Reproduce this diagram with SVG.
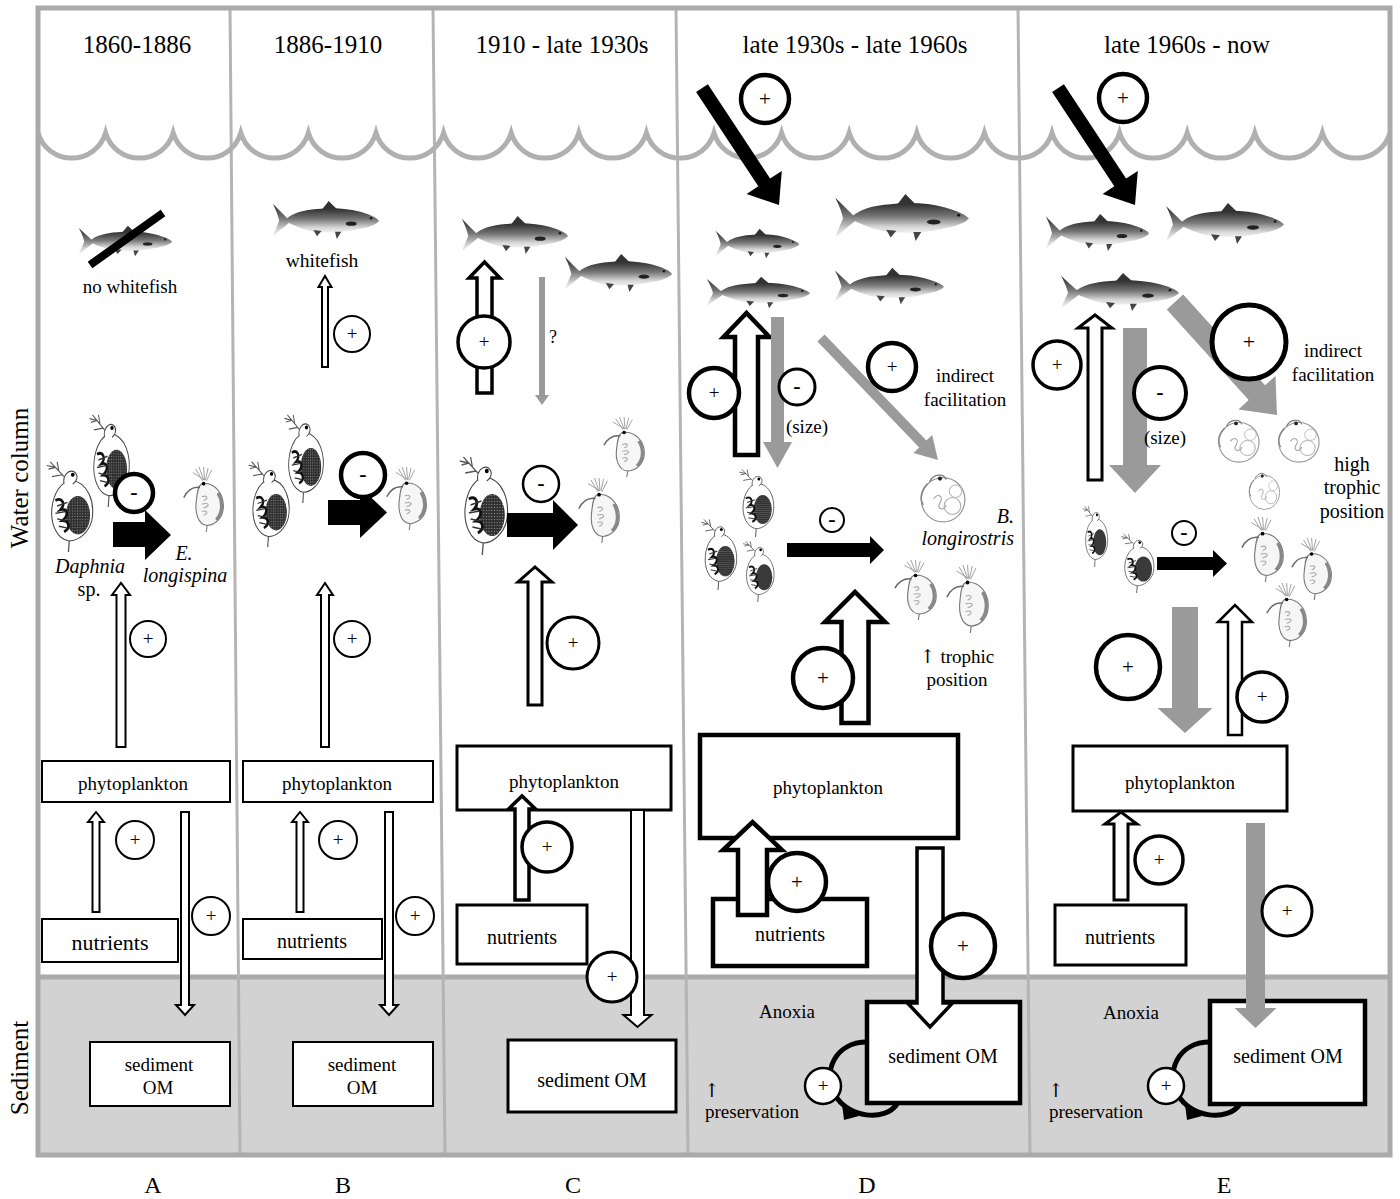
<svg xmlns="http://www.w3.org/2000/svg" xmlns:xlink="http://www.w3.org/1999/xlink" width="1400" height="1199" viewBox="0 0 1400 1199">
<style>
.t{font-family:"Liberation Serif","Times New Roman",serif;fill:#000}
.ar{font-family:"DejaVu Serif","DejaVu Sans",serif;fill:#000}
.ti{font-style:italic}
.mid{text-anchor:middle}
.box{fill:#fff;stroke:#000}
.wa{fill:#fff;stroke:#000;stroke-linejoin:miter}
.bk{fill:#000}
.gy{fill:#9a9a9a}
.cc{fill:#fff;stroke:#000}
.pl{font-size:19px}
.mi{font-size:22px;font-weight:bold}
.grid{stroke:#b4b4b4;stroke-width:3;fill:none}
</style>
<defs>
<linearGradient id="fg" x1="0" y1="0" x2="0" y2="1"><stop offset="0" stop-color="#2c2c2c"/><stop offset="0.45" stop-color="#777"/><stop offset="0.8" stop-color="#d6d6d6"/><stop offset="1" stop-color="#f0f0f0"/></linearGradient>
<pattern id="dots" width="3" height="3" patternUnits="userSpaceOnUse"><rect width="3" height="3" fill="#2e2e2e"/><circle cx="1.5" cy="1.5" r="0.7" fill="#8a8a8a"/></pattern>
<symbol id="fish" viewBox="0 0 120 44" preserveAspectRatio="none">
<path fill="url(#fg)" d="M19 22 C13 16 7 10 1 4 C5 12 7 18 8 23 C6 28 3 34 1 40 C8 34 14 29 19 25 Z"/>
<path fill="url(#fg)" d="M16 21 C22 15 34 11 50 10 C66 8 84 9 98 13 C108 16 116 19 119 23 C116 27 108 30 96 32 C80 36 58 37 42 34 C30 31 22 27 16 24 Z"/>
<path fill="#333" d="M56 10 L63 1 L66 4 L72 10 Z"/>
<path fill="#444" d="M46 33 L50 40 L55 34 Z M70 35 L72 43 L77 35 Z"/>
<ellipse cx="88" cy="26" rx="6" ry="2.3" fill="#222"/>
<circle cx="110" cy="20" r="1.3" fill="#111"/>
</symbol>
<symbol id="daph" viewBox="0 0 60 100" preserveAspectRatio="none">
<path d="M28 88 L27 100" stroke="#555" stroke-width="1.5"/>
<path d="M30 22 C50 24 58 46 54 66 C50 80 38 88 28 88 C14 86 6 70 8 52 C10 36 18 24 30 22 Z" fill="#fff" stroke="#444" stroke-width="1.2"/>
<ellipse cx="38" cy="60" rx="14" ry="21" fill="url(#dots)"/>
<path d="M12 44 C20 40 24 48 18 54 C26 52 28 60 20 66 C28 66 30 74 22 78" fill="none" stroke="#111" stroke-width="3"/>
<path d="M14 50 L26 46 M12 58 L24 56 M14 64 L24 66 M16 72 L26 74" stroke="#333" stroke-width="1.5"/>
<path d="M22 26 C20 16 28 10 34 13 C39 17 37 23 32 26" fill="#fff" stroke="#444" stroke-width="1.2"/>
<circle cx="32" cy="16" r="2.2" fill="#000"/>
<path d="M22 18 L12 8 M12 8 L6 2 M12 8 L4 10 M16 12 L14 2 M12 8 L2 6 M20 16 L8 18" stroke="#555" stroke-width="1.3" fill="none"/>
</symbol>
<symbol id="elong" viewBox="0 0 50 70" preserveAspectRatio="none">
<path d="M28 62 L27 70" stroke="#777" stroke-width="1.2"/>
<path d="M22 18 C36 16 46 28 46 42 C46 54 38 62 28 63 C18 62 14 50 16 36 C17 26 18 20 22 18 Z" fill="#f6f6f6" stroke="#777" stroke-width="1.2"/>
<path d="M40 28 C46 38 45 50 38 57" fill="none" stroke="#888" stroke-width="3.5"/>
<path d="M20 22 C12 21 6 25 2 33" fill="none" stroke="#666" stroke-width="1.6"/>
<path d="M23 15 L15 2 M24 14 L19 0 M25 14 L24 0 M26 14 L29 1 M27 15 L33 3 M25 14 L12 6" stroke="#999" stroke-width="1" fill="none"/>
<circle cx="24" cy="18" r="2" fill="#000"/>
<path d="M22 32 C28 30 30 34 24 36 M22 40 C30 38 32 42 24 44 M22 48 C28 46 30 50 24 52" fill="none" stroke="#aaa" stroke-width="1.2"/>
</symbol>
<symbol id="bos" viewBox="0 0 50 55" preserveAspectRatio="none">
<circle cx="27" cy="31" r="21" fill="#fff" stroke="#999" stroke-width="1.2"/>
<circle cx="36" cy="37" r="8" fill="none" stroke="#aaa" stroke-width="1"/>
<circle cx="39" cy="23" r="6" fill="none" stroke="#bbb"/>
<path d="M14 14 C18 6 28 6 30 12" fill="none" stroke="#777" stroke-width="1.2"/>
<circle cx="24" cy="11" r="2" fill="#222"/>
<path d="M12 16 C6 22 4 30 8 36" fill="none" stroke="#888" stroke-width="1.5"/>
<path d="M18 30 C22 24 28 28 24 34 C20 40 28 42 30 36" fill="none" stroke="#aaa" stroke-width="1.2"/>
</symbol>
</defs>
<rect width="1400" height="1199" fill="#fff"/>
<g id="background">
<rect x="38" y="977" width="1352" height="178" fill="#d2d2d2"/>
<line x1="38" y1="977" x2="1390" y2="977" stroke="#aaa" stroke-width="5"/>
<path class="grid" d="M230 8 L240 1155 M433 8 L445 1155 M676 8 L688 1155 M1018 8 L1030 1155"/>
<path fill="none" stroke="#b0b0b0" stroke-width="5" d="M38 133 A35.3 35.3 0 0 0 105.6 133 A35.3 35.3 0 0 0 173.2 133 A35.3 35.3 0 0 0 240.8 133 A35.3 35.3 0 0 0 308.4 133 A35.3 35.3 0 0 0 376 133 A35.3 35.3 0 0 0 443.6 133 A35.3 35.3 0 0 0 511.2 133 A35.3 35.3 0 0 0 578.8 133 A35.3 35.3 0 0 0 646.4 133 A35.3 35.3 0 0 0 714 133 A35.3 35.3 0 0 0 781.6 133 A35.3 35.3 0 0 0 849.2 133 A35.3 35.3 0 0 0 916.8 133 A35.3 35.3 0 0 0 984.4 133 A35.3 35.3 0 0 0 1052 133 A35.3 35.3 0 0 0 1119.6 133 A35.3 35.3 0 0 0 1187.2 133 A35.3 35.3 0 0 0 1254.8 133 A35.3 35.3 0 0 0 1322.4 133 A35.3 35.3 0 0 0 1390 133"/>
<rect x="38" y="8" width="1352" height="1147" fill="none" stroke="#aaa" stroke-width="5"/>
</g>
<g id="labels">
<text class="t mid" x="137" y="53" font-size="25">1860-1886</text>
<text class="t mid" x="328" y="53" font-size="25">1886-1910</text>
<text class="t mid" x="562" y="53" font-size="25">1910 - late 1930s</text>
<text class="t mid" x="855" y="53" font-size="25">late 1930s - late 1960s</text>
<text class="t mid" x="1187" y="53" font-size="25">late 1960s - now</text>
<text class="t mid" x="153" y="1193" font-size="24">A</text>
<text class="t mid" x="343" y="1193" font-size="24">B</text>
<text class="t mid" x="573" y="1193" font-size="24">C</text>
<text class="t mid" x="867" y="1193" font-size="24">D</text>
<text class="t mid" x="1224" y="1193" font-size="24">E</text>
<text class="t mid" transform="translate(28 478) rotate(-90)" font-size="25">Water column</text>
<text class="t mid" transform="translate(28 1068) rotate(-90)" font-size="25">Sediment</text>
</g>
<g id="organisms">
<use href="#fish" x="78" y="225" width="95" height="32"/>
<use href="#fish" x="272" y="200" width="108" height="40"/>
<use href="#fish" x="461" y="215" width="108" height="40"/>
<use href="#fish" x="564" y="253" width="109" height="40"/>
<use href="#fish" x="715" y="228" width="85" height="31"/>
<use href="#fish" x="834" y="193" width="136" height="49"/>
<use href="#fish" x="706" y="276" width="105" height="33"/>
<use href="#fish" x="834" y="267" width="111" height="38"/>
<use href="#fish" x="1045" y="213" width="105" height="39"/>
<use href="#fish" x="1165" y="202" width="120" height="43"/>
<use href="#fish" x="1060" y="272" width="120" height="40"/>
<line x1="90" y1="265" x2="163" y2="213" stroke="#000" stroke-width="8"/>
<use href="#daph" x="45" y="460" width="52" height="92"/>
<use href="#daph" x="88" y="413" width="45" height="94"/>
<use href="#elong" x="182" y="467" width="45" height="65"/>
<use href="#daph" x="247" y="460" width="46" height="87"/>
<use href="#daph" x="283" y="413" width="44" height="90"/>
<use href="#elong" x="385" y="467" width="45" height="63"/>
<use href="#daph" x="458" y="455" width="54" height="100"/>
<use href="#elong" x="602" y="417" width="46" height="60"/>
<use href="#elong" x="577" y="478" width="46" height="65"/>
<use href="#daph" x="738" y="468" width="39" height="69"/>
<use href="#daph" x="700" y="518" width="40" height="72"/>
<use href="#daph" x="742" y="540" width="35" height="62"/>
<use href="#bos" x="915" y="467" width="52" height="58"/>
<use href="#elong" x="893" y="560" width="47" height="60"/>
<use href="#elong" x="945" y="565" width="47" height="68"/>
<use href="#bos" x="1213" y="413" width="48" height="52"/>
<use href="#bos" x="1273" y="413" width="48" height="52"/>
<use href="#bos" x="1245" y="467" width="36" height="45"/>
<use href="#daph" x="1082" y="505" width="28" height="62"/>
<use href="#daph" x="1120" y="533" width="37" height="60"/>
<use href="#elong" x="1240" y="517" width="47" height="65"/>
<use href="#elong" x="1290" y="538" width="45" height="62"/>
<use href="#elong" x="1265" y="583" width="45" height="64"/>
</g>
<g id="nodes">
<g id="A-phyto"><rect class="box" x="42" y="761" width="188" height="41" stroke-width="2"/><text class="t mid pl" x="133" y="790">phytoplankton</text></g>
<g id="A-nutr"><rect class="box" x="42" y="919" width="136" height="43" stroke-width="2"/><text class="t mid" x="110" y="950" font-size="22">nutrients</text></g>
<g id="A-sed"><rect class="box" x="90" y="1042" width="140" height="64" stroke-width="2"/><text class="t mid pl" x="159" y="1071">sediment</text><text class="t mid pl" x="158" y="1094">OM</text></g>
<g id="B-phyto"><rect class="box" x="243" y="761" width="190" height="41" stroke-width="2"/><text class="t mid pl" x="337" y="790">phytoplankton</text></g>
<g id="B-nutr"><rect class="box" x="243" y="919" width="139" height="40" stroke-width="2"/><text class="t mid" x="312" y="948" font-size="20">nutrients</text></g>
<g id="B-sed"><rect class="box" x="293" y="1042" width="140" height="64" stroke-width="2"/><text class="t mid pl" x="362" y="1071">sediment</text><text class="t mid pl" x="362" y="1094">OM</text></g>
<g id="C-phyto"><rect class="box" x="457" y="746" width="214" height="64" stroke-width="3"/><text class="t mid pl" x="564" y="788">phytoplankton</text></g>
<g id="C-nutr"><rect class="box" x="457" y="905" width="130" height="59" stroke-width="3"/><text class="t mid" x="522" y="944" font-size="20">nutrients</text></g>
<g id="C-sed"><rect class="box" x="508" y="1040" width="168" height="72" stroke-width="3"/><text class="t mid" x="592" y="1087" font-size="20">sediment OM</text></g>
<g id="D-phyto"><rect class="box" x="700" y="735" width="258" height="103" stroke-width="4.5"/><text class="t mid pl" x="828" y="794">phytoplankton</text></g>
<g id="D-nutr"><rect class="box" x="713" y="899" width="154" height="67" stroke-width="4.5"/><text class="t mid" x="790" y="941" font-size="20">nutrients</text></g>
<g id="D-sed"><rect class="box" x="867" y="1002" width="153" height="101" stroke-width="4.5"/><text class="t mid" x="943" y="1063" font-size="20">sediment OM</text></g>
<g id="E-phyto"><rect class="box" x="1073" y="746" width="214" height="65" stroke-width="3"/><text class="t mid pl" x="1180" y="789">phytoplankton</text></g>
<g id="E-nutr"><rect class="box" x="1055" y="905" width="131" height="60" stroke-width="3"/><text class="t mid" x="1120" y="944" font-size="20">nutrients</text></g>
<g id="E-sed"><rect class="box" x="1210" y="1001" width="155" height="103" stroke-width="4.5"/><text class="t mid" x="1288" y="1063" font-size="20">sediment OM</text></g>
</g>
<g id="connectors">
<polygon class="wa" stroke-width="2" points="116.5,747 116.5,595 112,595 121,583 130,595 125.5,595 125.5,747"/>
<polygon class="wa" stroke-width="2" points="92.5,912 92.5,822 88,822 96,812 104,822 99.5,822 99.5,912"/>
<polygon class="wa" stroke-width="2" points="181,812 189,812 189,1005 194,1005 185,1015 176,1005 181,1005"/>
<polygon class="bk" points="113,522 145,522 145,510 171,535 145,560 145,547 113,547"/>
<polygon class="wa" stroke-width="2" points="322,367 322,287 318.5,287 325,276 331.5,287 328,287 328,367"/>
<polygon class="wa" stroke-width="2" points="321,747 321,595 317,595 325,583 333,595 329,595 329,747"/>
<polygon class="wa" stroke-width="2" points="296.5,912 296.5,822 292,822 300,812 308,822 303.5,822 303.5,912"/>
<polygon class="wa" stroke-width="2" points="385,812 393,812 393,1005 398,1005 389,1015 380,1005 385,1005"/>
<polygon class="bk" points="328,500 360,500 360,487 387,512.5 360,538 360,525 328,525"/>
<polygon class="wa" stroke-width="3.5" points="477,393 477,278 469,278 484.5,262 500,278 492,278 492,393"/>
<polygon class="gy" points="539,277 545,277 545,395 549,395 542,405 535,395 539,395"/>
<polygon class="wa" stroke-width="3" points="528,705 528,582 518,582 535,567 552,582 542,582 542,705"/>
<polygon class="wa" stroke-width="3.5" points="515,900 515,809 508.5,809 522,796 535.5,809 529,809 529,900"/>
<polygon class="wa" stroke-width="2" points="631,810 644,810 644,1015 651.5,1015 637.5,1027 623.5,1015 631,1015"/>
<polygon class="bk" points="507,513 553,513 553,500 578,525 553,550 553,537 507,537"/>
<polygon class="bk" points="696.1,91.9 758.3,186.3 746.6,194 779,205 781.8,170.9 770.1,178.6 707.9,84.2"/>
<polygon class="wa" stroke-width="4.5" points="735,455 735,337 723.5,337 746.5,313 769.5,337 758,337 758,455"/>
<polygon class="gy" points="771,317 784,317 784,442 792,442 777.5,468 763,442 771,442"/>
<polygon class="gy" points="817.4,341.5 919.2,447.6 913.4,453.1 938,460 932.2,435.1 926.4,440.6 824.6,334.5"/>
<polygon class="bk" points="787,543 870,543 870,536 884,550 870,564 870,557 787,557"/>
<polygon class="wa" stroke-width="4.5" points="841.5,723 841.5,622 825,622 855,592 885,622 868.5,622 868.5,723"/>
<polygon class="wa" stroke-width="4.5" points="738,915 738,850 723,850 752.5,822 782,850 767,850 767,915"/>
<polygon class="wa" stroke-width="3.5" points="917,848 943,848 943,1003 952.5,1003 930,1027 907.5,1003 917,1003"/>
<path d="M867 1042 C835 1042 822 1072 835 1095 C848 1118 885 1122 897 1104" fill="none" stroke="#000" stroke-width="5"/>
<polygon class="bk" points="842,1104 859,1116 844,1120"/>
<polygon class="bk" points="1052.1,91.9 1114.3,186.3 1102.6,194 1135,205 1137.8,170.9 1126.1,178.6 1063.9,84.2"/>
<polygon class="wa" stroke-width="3" points="1088,480 1088,328 1078,328 1095,315 1112,328 1102,328 1102,480"/>
<polygon class="gy" points="1123,328 1147,328 1147,465 1161,465 1135,493 1109,465 1123,465"/>
<polygon class="gy" points="1166.8,309.4 1248.7,400.1 1238.4,409.5 1277,415 1275.5,375.9 1265.1,385.3 1183.2,294.6"/>
<polygon class="bk" points="1157,557 1213,557 1213,550 1227,563.5 1213,577 1213,570 1157,570"/>
<polygon class="gy" points="1172,607 1198,607 1198,708 1212.5,708 1185,733 1157.5,708 1172,708"/>
<polygon class="wa" stroke-width="2.5" points="1228,735 1228,622 1218,622 1235,605 1252,622 1242,622 1242,735"/>
<polygon class="wa" stroke-width="3" points="1114,900 1114,824 1105,824 1121,812 1137,824 1128,824 1128,900"/>
<polygon class="gy" points="1246,823 1265,823 1265,1008 1276.5,1008 1255.5,1028 1234.5,1008 1246,1008"/>
<path d="M1210 1042 C1178 1042 1165 1072 1178 1095 C1191 1118 1228 1122 1240 1104" fill="none" stroke="#000" stroke-width="5"/>
<polygon class="bk" points="1185,1104 1202,1116 1187,1120"/>
</g>
<g id="signs">
<circle class="cc" cx="134" cy="493" r="19" stroke-width="4.5"/><text class="t mid mi" x="134" y="499">-</text>
<circle class="cc" cx="148" cy="639" r="18" stroke-width="2"/><text class="t mid" x="148" y="645" font-size="19">+</text>
<circle class="cc" cx="135" cy="840" r="19" stroke-width="2"/><text class="t mid" x="135" y="846" font-size="19">+</text>
<circle class="cc" cx="211" cy="916" r="19" stroke-width="2"/><text class="t mid" x="211" y="922" font-size="19">+</text>
<circle class="cc" cx="352" cy="334" r="18" stroke-width="2"/><text class="t mid" x="352" y="340" font-size="19">+</text>
<circle class="cc" cx="363" cy="475" r="22" stroke-width="4.5"/><text class="t mid mi" x="363" y="481">-</text>
<circle class="cc" cx="352" cy="639" r="18" stroke-width="2"/><text class="t mid" x="352" y="645" font-size="19">+</text>
<circle class="cc" cx="338" cy="840" r="19" stroke-width="2"/><text class="t mid" x="338" y="846" font-size="19">+</text>
<circle class="cc" cx="415" cy="916" r="19" stroke-width="2"/><text class="t mid" x="415" y="922" font-size="19">+</text>
<circle class="cc" cx="484" cy="342" r="26" stroke-width="3.5"/><text class="t mid" x="484" y="348" font-size="19">+</text>
<circle class="cc" cx="541" cy="484" r="18" stroke-width="2.5"/><text class="t mid mi" x="541" y="490">-</text>
<circle class="cc" cx="573" cy="643" r="26" stroke-width="3"/><text class="t mid" x="573" y="649" font-size="19">+</text>
<circle class="cc" cx="547" cy="847" r="25" stroke-width="3.5"/><text class="t mid" x="547" y="853" font-size="19">+</text>
<circle class="cc" cx="612" cy="977" r="25" stroke-width="3"/><text class="t mid" x="612" y="983" font-size="19">+</text>
<circle class="cc" cx="765" cy="99" r="24" stroke-width="4.5"/><text class="t mid" x="765" y="106" font-size="21">+</text>
<circle class="cc" cx="714" cy="393" r="25" stroke-width="4.5"/><text class="t mid" x="714" y="399" font-size="19">+</text>
<circle class="cc" cx="797" cy="387" r="18" stroke-width="3"/><text class="t mid mi" x="797" y="393">-</text>
<circle class="cc" cx="892" cy="367" r="24" stroke-width="4.5"/><text class="t mid" x="892" y="373" font-size="19">+</text>
<circle class="cc" cx="832" cy="520" r="12" stroke-width="2"/><text class="t mid mi" x="832" y="526" font-size="19">-</text>
<circle class="cc" cx="823" cy="678" r="30" stroke-width="4.5"/><text class="t mid" x="823" y="685" font-size="21">+</text>
<circle class="cc" cx="797" cy="882" r="29" stroke-width="4.5"/><text class="t mid" x="797" y="889" font-size="21">+</text>
<circle class="cc" cx="963" cy="946" r="32" stroke-width="4.5"/><text class="t mid" x="963" y="953" font-size="21">+</text>
<circle class="cc" cx="823" cy="1086" r="18" stroke-width="2.5"/><text class="t mid" x="823" y="1092" font-size="19">+</text>
<circle class="cc" cx="1123" cy="98" r="24" stroke-width="4.5"/><text class="t mid" x="1123" y="105" font-size="21">+</text>
<circle class="cc" cx="1057" cy="365" r="24" stroke-width="3.5"/><text class="t mid" x="1057" y="371" font-size="19">+</text>
<circle class="cc" cx="1160" cy="393" r="26" stroke-width="4"/><text class="t mid mi" x="1160" y="399">-</text>
<circle class="cc" cx="1249" cy="342" r="37" stroke-width="5"/><text class="t mid" x="1249" y="349" font-size="22">+</text>
<circle class="cc" cx="1184" cy="533" r="12" stroke-width="2"/><text class="t mid mi" x="1184" y="539" font-size="19">-</text>
<circle class="cc" cx="1128" cy="667" r="32" stroke-width="4.5"/><text class="t mid" x="1128" y="674" font-size="21">+</text>
<circle class="cc" cx="1262" cy="697" r="25" stroke-width="3.5"/><text class="t mid" x="1262" y="703" font-size="19">+</text>
<circle class="cc" cx="1159" cy="860" r="24" stroke-width="3.5"/><text class="t mid" x="1159" y="866" font-size="19">+</text>
<circle class="cc" cx="1287" cy="911" r="25" stroke-width="3"/><text class="t mid" x="1287" y="917" font-size="19">+</text>
<circle class="cc" cx="1166" cy="1086" r="18" stroke-width="2.5"/><text class="t mid" x="1166" y="1092" font-size="19">+</text>
</g>
<g id="annotations">
<text class="t mid" x="130" y="293" font-size="19">no whitefish</text>
<text class="t mid" x="322" y="267" font-size="19.5">whitefish</text>
<text class="t ti mid" x="90" y="573" font-size="20">Daphnia</text>
<text class="t mid" x="89" y="596" font-size="20">sp.</text>
<text class="t ti mid" x="184" y="560" font-size="20">E.</text>
<text class="t ti mid" x="185" y="582" font-size="20">longispina</text>
<text class="t mid" x="553" y="343" font-size="18">?</text>
<text class="t mid" x="807" y="433" font-size="19">(size)</text>
<text class="t mid" x="965" y="382" font-size="19">indirect</text>
<text class="t mid" x="965" y="406" font-size="19">facilitation</text>
<text class="t ti" x="1014" y="523" font-size="20" text-anchor="end">B.</text>
<text class="t ti" x="1014" y="545" font-size="20" text-anchor="end">longirostris</text>
<text class="t mid" x="957" y="663" font-size="19"><tspan class="ar">↑</tspan> trophic</text>
<text class="t mid" x="957" y="686" font-size="19">position</text>
<text class="t mid" x="787" y="1018" font-size="19">Anoxia</text>
<text class="ar" x="704" y="1097" font-size="19">↑</text>
<text class="t" x="705" y="1118" font-size="19">preservation</text>
<text class="t mid" x="1165" y="444" font-size="19">(size)</text>
<text class="t mid" x="1333" y="357" font-size="19">indirect</text>
<text class="t mid" x="1333" y="381" font-size="19">facilitation</text>
<text class="t mid" x="1352" y="471" font-size="20">high</text>
<text class="t mid" x="1352" y="494" font-size="20">trophic</text>
<text class="t mid" x="1352" y="518" font-size="20">position</text>
<text class="t mid" x="1131" y="1019" font-size="19">Anoxia</text>
<text class="ar" x="1048" y="1097" font-size="19">↑</text>
<text class="t" x="1049" y="1118" font-size="19">preservation</text>
</g>
</svg>
